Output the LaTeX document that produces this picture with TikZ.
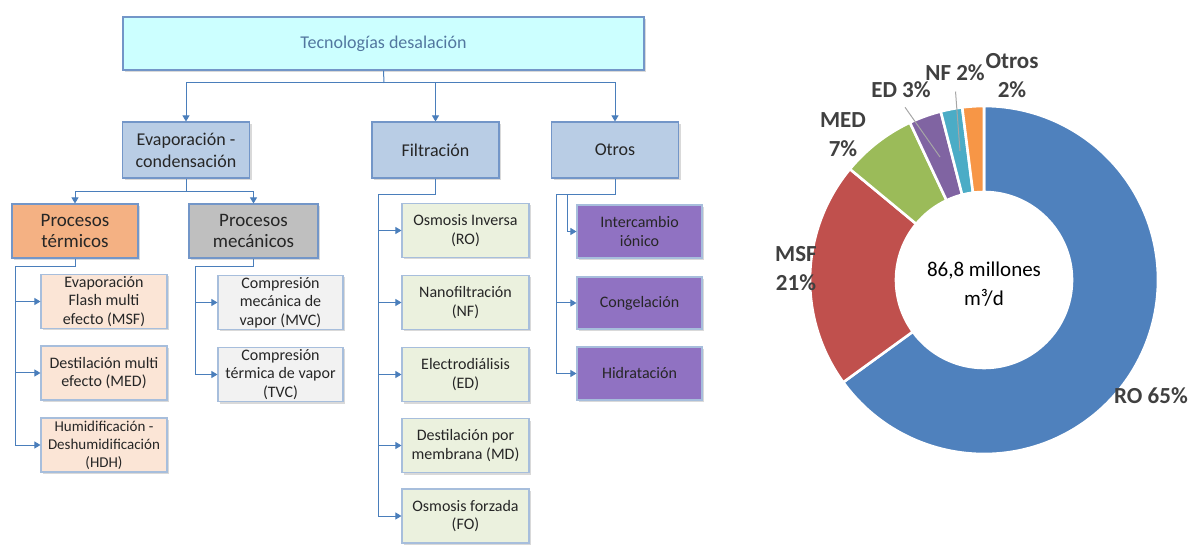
\documentclass[tikz,border=0pt]{standalone}
\usepackage{fontspec}
\setmainfont{Carlito}
\usetikzlibrary{arrows.meta,shadows}
\begin{document}
\begin{tikzpicture}[x=1pt,y=-1pt,
  box/.style={draw=boxline, line width=1.1pt, align=center, text=txt, inner sep=0pt, drop shadow={opacity=0.3, shadow xshift=2pt, shadow yshift=-2pt}},
  topbox/.style={box, fill=topfill, text=toptxt, minimum width=521, minimum height=53, font=\fontsize{18}{22}\selectfont},
  midbox/.style={box, fill=midfill, minimum width=127, minimum height=56, font=\fontsize{18}{22}\selectfont},
  procbox/.style={box, minimum width=126, minimum height=54, font=\fontsize{19}{21}\selectfont},
  leaf/.style={box, draw=leafline, minimum width=126, minimum height=54, font=\fontsize{16}{18.5}\selectfont},
  link/.style={draw=linkblue, line width=1pt},
  arr/.style={link, -{Triangle[width=7pt,length=6pt]}},
  lab/.style={text=labtxt, align=center, font=\bfseries\fontsize{23}{29}\selectfont},
  leader/.style={draw=gray!70, line width=1pt}]
\useasboundingbox (0,0) rectangle (1192,545);
\definecolor{boxline}{HTML}{7396C8}
\definecolor{leafline}{HTML}{A7BEDC}
\definecolor{linkblue}{HTML}{4A7EBB}
\definecolor{txt}{HTML}{262626}
\definecolor{topfill}{HTML}{CCFFFF}
\definecolor{toptxt}{HTML}{52779F}
\definecolor{midfill}{HTML}{B9CDE5}
\definecolor{termfill}{HTML}{F4B183}
\definecolor{mecfill}{HTML}{BFBFBF}
\definecolor{peach}{HTML}{FBE5D6}
\definecolor{lgray}{HTML}{F2F2F2}
\definecolor{lgreen}{HTML}{EBF1DE}
\definecolor{lpurple}{HTML}{9072C2}
\definecolor{labtxt}{HTML}{404040}
\definecolor{cRO}{HTML}{4F81BD}
\definecolor{cMSF}{HTML}{C0504D}
\definecolor{cMED}{HTML}{9BBB59}
\definecolor{cED}{HTML}{8064A2}
\definecolor{cNF}{HTML}{4BACC6}
\definecolor{cOT}{HTML}{F79646}
\node[topbox] (tec) at (383.5,43.5) {Tecnologías desalación};
\node[midbox] (evap) at (186,150) {Evaporación -\\condensación};
\node[midbox] (filt) at (435.5,150) {Filtración};
\node[midbox] (otr) at (615,150) {Otros};
\node[procbox, fill=termfill] (term) at (75,231) {Procesos\\térmicos};
\node[procbox, fill=mecfill, minimum width=129] (mec) at (253.5,231) {Procesos\\mecánicos};
\node[leaf, fill=peach] (msf) at (104,301.5) {Evaporación\\Flash multi\\efecto (MSF)};
\node[leaf, fill=peach] (med) at (104,373) {Destilación multi\\efecto (MED)};
\node[leaf, fill=peach, font=\fontsize{15}{18}\selectfont] (hdh) at (104,445) {Humidificación -\\Deshumidificación\\(HDH)};
\node[leaf, fill=lgray, minimum width=125] (mvc) at (280.5,302.5) {Compresión\\mecánica de\\vapor (MVC)};
\node[leaf, fill=lgray, minimum width=125] (tvc) at (280.5,374.5) {Compresión\\térmica de vapor\\(TVC)};
\node[leaf, fill=lgreen, minimum width=127] (ro) at (465.5,230.5) {Osmosis Inversa\\(RO)};
\node[leaf, fill=lgreen, minimum width=127] (nf) at (465.5,302.5) {Nanofiltración\\(NF)};
\node[leaf, fill=lgreen, minimum width=127] (ed) at (465.5,374.5) {Electrodiálisis\\(ED)};
\node[leaf, fill=lgreen, minimum width=127] (md) at (465.5,445.5) {Destilación por\\membrana (MD)};
\node[leaf, fill=lgreen, minimum width=127] (fo) at (465.5,516) {Osmosis forzada\\(FO)};
\node[leaf, fill=lpurple, minimum width=125, minimum height=53] (int) at (639.5,231.5) {Intercambio\\iónico};
\node[leaf, fill=lpurple, minimum width=125, minimum height=52] (cong) at (639.5,303) {Congelación};
\node[leaf, fill=lpurple, minimum width=125, minimum height=53] (hid) at (639.5,373.5) {Hidratación};
\coordinate (hbus) at (384,83);
\coordinate (ebus) at (186,192);
\coordinate (tbus) at (15,267);
\coordinate (mbus) at (195,267);
\coordinate (fbus) at (378,195);
\coordinate (obus) at (556,195);
\coordinate (obustwo) at (567,195);
\draw[link] (tec.south) -- (hbus);
\draw[arr] (hbus) -| (evap.north);
\draw[arr] (hbus) -| (filt.north);
\draw[arr] (hbus) -| (otr.north);
\draw[link] (evap.south) -- (ebus);
\draw[arr] (ebus) -| (term.north);
\draw[arr] (ebus) -| (mec.north);
\draw[link] (term.south) |- (tbus) -- (tbus |- hdh);
\foreach \n in {msf,med,hdh} \draw[arr] (tbus |- \n) -- (\n);
\draw[link] (mec.south) |- (mbus) -- (mbus |- tvc);
\foreach \n in {mvc,tvc} \draw[arr] (mbus |- \n) -- (\n);
\draw[link] (filt.south) |- (fbus) -- (fbus |- fo);
\foreach \n in {ro,nf,ed,md,fo} \draw[arr] (fbus |- \n) -- (\n);
\draw[link] (otr.south) |- (obus) -- (obus |- hid);
\draw[link] (obustwo) -- (obustwo |- int);
\draw[arr] (obustwo |- int) -- (int);
\foreach \n in {cong,hid} \draw[arr] (obus |- \n) -- (\n);
\begin{scope}[shift={(984,280)}, y=1pt]
\foreach \a/\b/\c in {90/-144/cRO, -144/-219.6/cMSF, -219.6/-244.8/cMED, -244.8/-255.6/cED, -255.6/-262.8/cNF, -262.8/-270/cOT}
  \draw[white, line width=2.6pt, fill=\c] (\a:88) arc[start angle=\a, end angle=\b, radius=88] -- (\b:174) arc[start angle=\b, end angle=\a, radius=174] -- cycle;
\end{scope}
\node[align=center, text=black, font=\fontsize{21}{29}\selectfont] (tot) at (984,284) {86,8 millones\\m³/d};
\node[lab] (rolab) at (1151,396) {RO 65\%};
\node[lab] (msflab) at (796,269) {MSF\\21\%};
\node[lab] (medlab) at (843,135) {MED\\7\%};
\node[lab] (edlab) at (901,90) {ED 3\%};
\node[lab] (nflab) at (955,73) {NF 2\%};
\node[lab] (otlab) at (1012,76) {Otros\\2\%};
\coordinate (edtip) at (940,157);
\coordinate (nftip) at (960,151);
\draw[leader, shorten <=7pt] (edlab.south) -- (edtip);
\draw[leader, shorten <=7pt] (nflab.south) -- (nftip);
\end{tikzpicture}
\end{document}
